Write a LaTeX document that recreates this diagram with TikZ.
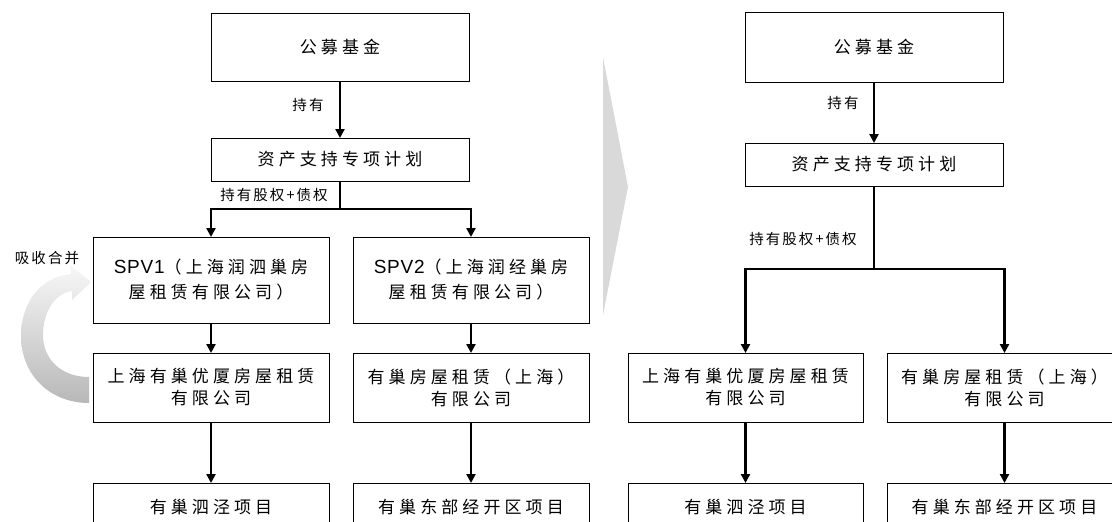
\documentclass[tikz,border=0pt]{standalone}
\usepackage{fontspec}
\usetikzlibrary{arrows.meta}
\newfontfamily\cjk[LetterSpace=24]{Noto Sans CJK SC}
\newfontfamily\cjklab[LetterSpace=14]{Noto Sans CJK SC}
\newfontfamily\lat[LetterSpace=4]{Liberation Sans}
\begin{document}
\begin{tikzpicture}[x=1pt,y=-1pt,
  box/.style={draw, line width=1pt, inner sep=0pt, outer sep=0pt, align=center,
    font=\fontsize{17}{22}\selectfont\cjk},
  wbox/.style={box, minimum width=258pt},
  nbox/.style={box, minimum width=236pt},
  lab/.style={inner sep=0pt, font=\fontsize{14.5}{17}\selectfont\cjklab},
  arr/.style={line width=2.7pt, -{Triangle[length=9pt,width=9pt]}},
  ln/.style={line width=2.7pt}]
\useasboundingbox (0,0) rectangle (1112,522);
\clip (0,0) rectangle (1112,522);

% ---------- left diagram ----------
\node[wbox, minimum height=68pt] (A1) at (340,47) {公募基金};
\node[wbox, minimum height=43pt] (A2) at (340,159.5) {资产支持专项计划};
\node[nbox, minimum height=86pt] (B1) at (211,280) {{\fontsize{19}{22}\selectfont\lat SPV1}（上海润泗巢房\\[3pt]屋租赁有限公司）};
\node[nbox, minimum height=86pt] (B2) at (471,280) {{\fontsize{19}{22}\selectfont\lat SPV2}（上海润经巢房\\[3pt]屋租赁有限公司）};
\node[nbox, minimum height=69pt] (C1) at (211,387.5) {上海有巢优厦房屋租赁\\有限公司};
\node[nbox, minimum height=69pt] (C2) at (471,387.5) {有巢房屋租赁（上海）\\有限公司};
\node[nbox, minimum height=48pt] (D1) at (211,507) {有巢泗泾项目};
\node[nbox, minimum height=48pt] (D2) at (471,507) {有巢东部经开区项目};

\coordinate (LJ) at (340,209);
\draw[arr] (A1.south) -- (A2.north);
\draw[ln] (A2.south) -- (LJ);
\draw[arr] (LJ) -| (B1.north);
\draw[arr] (LJ) -| (B2.north);
\draw[arr] (B1.south) -- (C1.north);
\draw[arr] (B2.south) -- (C2.north);
\draw[arr] (C1.south) -- (D1.north);
\draw[arr] (C2.south) -- (D2.north);

\node[lab] (L1) at (308,105) {持有};
\node[lab] (L2) at (274,195) {持有股权+债权};
\node[lab] (L3) at (47,258) {吸收合并};

% curved merge arrow
\shade[top color=black!3, middle color=black!10, bottom color=black!28]
  (89,377) .. controls (60,377) and (43,358) .. (43,335)
  .. controls (43,312) and (55,293) .. (72,291)
  -- (72,300) -- (91,282) -- (70,265) -- (71,274)
  .. controls (40,277) and (21,303) .. (21,336)
  .. controls (21,375) and (50,403) .. (89,403) -- cycle;

% separator chevron
\fill[black!15] (603,57) -- (628,187) -- (603,315) -- cycle;

% ---------- right diagram ----------
\node[wbox, minimum height=70pt] (R1) at (874,47) {公募基金};
\node[wbox, minimum height=43pt] (R2) at (874,164.5) {资产支持专项计划};
\node[box, minimum width=235pt, minimum height=69pt] (R3) at (745.5,387.5) {上海有巢优厦房屋租赁\\有限公司};
\node[box, minimum width=235pt, minimum height=69pt] (R4) at (1004.5,387.5) {有巢房屋租赁（上海）\\有限公司};
\node[box, minimum width=235pt, minimum height=48pt] (R5) at (745.5,507) {有巢泗泾项目};
\node[box, minimum width=235pt, minimum height=48pt] (R6) at (1004.5,507) {有巢东部经开区项目};

\coordinate (RJ) at (874,269);
\draw[arr] (R1.south) -- (R2.north);
\draw[ln] (R2.south) -- (RJ);
\draw[arr] (RJ) -| (R3.north);
\draw[arr] (RJ) -| (R4.north);
\draw[arr] (R3.south) -- (R5.north);
\draw[arr] (R4.south) -- (R6.north);

\node[lab] (M1) at (843,103) {持有};
\node[lab] (M2) at (803,239) {持有股权+债权};
\end{tikzpicture}
\end{document}
